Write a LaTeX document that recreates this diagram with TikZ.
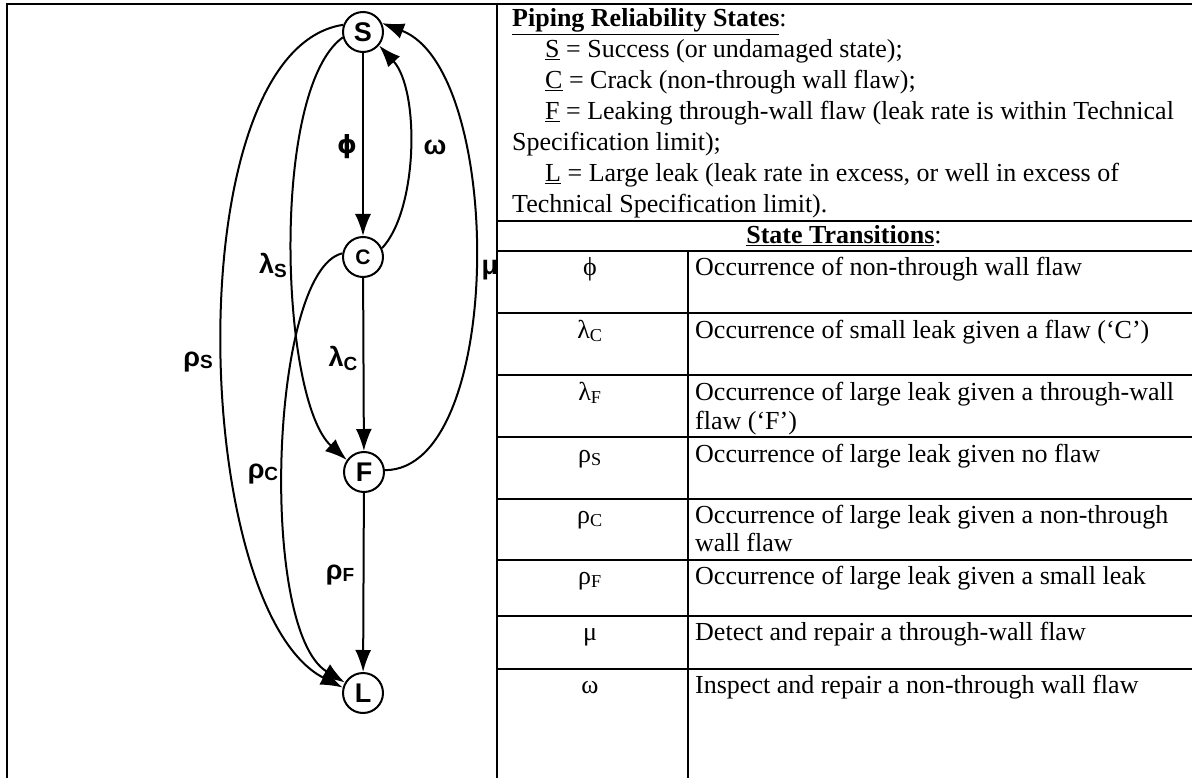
\documentclass[tikz,border=0pt]{standalone}
\usepackage{fontspec}
\setmainfont{Liberation Serif}
\newfontfamily\arialf{Liberation Sans}
\newfontfamily\dvs{DejaVu Sans}
\usetikzlibrary{arrows.meta}
\begin{document}
\begin{tikzpicture}[x=1pt,y=-1pt,
  st/.style={circle,draw,line width=2pt,minimum size=40pt,inner sep=0pt,font=\arialf\bfseries\fontsize{27}{27}\selectfont},
  ed/.style={line width=2pt,-{Latex[length=22pt,width=16pt]}},
  gl/.style={font=\arialf\bfseries\fontsize{27}{27}\selectfont,inner sep=0pt},
  tl/.style={anchor=base west,inner sep=0pt,font=\fontsize{26}{30}\selectfont},
  tc/.style={anchor=base,inner sep=0pt,font=\fontsize{26}{30}\selectfont},
  rule/.style={line width=2pt}]
\useasboundingbox (0,0) rectangle (1192,778);
% frame and table rules
\draw[rule] (6.5,778) -- (6.5,4) -- (1192,4);
\draw[rule] (497,4) -- (497,778);
\draw[rule] (497,221) -- (1192,221);
\draw[rule] (497,251) -- (1192,251);
\foreach \yy in {313,375,437,499,560,616,669} {\draw[rule] (497,\yy) -- (1192,\yy);}
\draw[rule] (688,251) -- (688,778);
% state nodes
\node[st] (S) at (363,32) {S};
\node[st,font=\arialf\bfseries\fontsize{21}{21}\selectfont] (C) at (363,257) {C};
\node[st] (F) at (364,472) {F};
\node[st] (L) at (363,693) {L};
% connectors
\draw[ed] (S) -- (C);
\draw[ed] (C) -- (F);
\draw[ed] (F) -- (L);
\draw[ed] (C.25) .. controls (418,210) and (420,90) .. (S.-40);
\draw[ed] (F.5) .. controls (505,470) and (505,70) .. (S.25);
\draw[ed] (S.195) .. controls (270,90) and (280,400) .. (F.145);
\draw[ed] (S.160) .. controls (175,50) and (190,610) .. (L.165);
\draw[ed] (C.170) .. controls (270,270) and (258,630) .. (L.150);
% diagram labels
\node[gl,font=\dvs\bfseries\fontsize{25}{25}\selectfont] (lphi) at (347,147) {ϕ};
\node[gl] (lomega) at (435,147) {ω};
\node[gl] (lmu) at (490,270) {μ};
\node[gl] (llS) at (273,265) {λ\raisebox{-4pt}{\fontsize{19}{19}\selectfont S}};
\node[gl] (llC) at (343,358) {λ\raisebox{-4pt}{\fontsize{19}{19}\selectfont C}};
\node[gl] (lrS) at (198,362) {ρ\raisebox{-2pt}{\fontsize{19}{19}\selectfont S}};
\node[gl] (lrC) at (263,474) {ρ\raisebox{-2pt}{\fontsize{19}{19}\selectfont C}};
\node[gl] (lrF) at (340,575) {ρ\raisebox{-2pt}{\fontsize{19}{19}\selectfont F}};
% top section text
\node[tl] (h1) at (512,27) {\textbf{\underline{Piping Reliability States}}:};
\node[tl] (s1) at (545,58) {\underline{S} = Success (or undamaged state);};
\node[tl] (s2) at (545,89) {\underline{C} = Crack (non-through wall flaw);};
\node[tl] (s3) at (545,120) {\underline{F} = Leaking through-wall flaw (leak rate is within Technical};
\node[tl] (s4) at (512,151) {Specification limit);};
\node[tl] (s5) at (545,182) {\underline{L} = Large leak (leak rate in excess, or well in excess of};
\node[tl] (s6) at (512,213) {Technical Specification limit).};
\node[tc] (h2) at (844,244) {\textbf{\underline{State Transitions}}:};
% table rows
\node[tc] (r1a) at (590,276) {ϕ};
\node[tl] (r1b) at (695,276) {Occurrence of non-through wall flaw};
\node[tc] (r2a) at (590,338) {λ\textsubscript{C}};
\node[tl] (r2b) at (695,338) {Occurrence of small leak given a flaw (‘C’)};
\node[tc] (r3a) at (590,400) {λ\textsubscript{F}};
\node[tl] (r3b) at (695,400) {Occurrence of large leak given a through-wall};
\node[tl] (r3c) at (695,429) {flaw (‘F’)};
\node[tc] (r4a) at (590,462) {ρ\textsubscript{S}};
\node[tl] (r4b) at (695,462) {Occurrence of large leak given no flaw};
\node[tc] (r5a) at (590,523) {ρ\textsubscript{C}};
\node[tl] (r5b) at (695,523) {Occurrence of large leak given a non-through};
\node[tl] (r5c) at (695,551) {wall flaw};
\node[tc] (r6a) at (590,584) {ρ\textsubscript{F}};
\node[tl] (r6b) at (695,584) {Occurrence of large leak given a small leak};
\node[tc] (r7a) at (590,640) {μ};
\node[tl] (r7b) at (695,640) {Detect and repair a through-wall flaw};
\node[tc] (r8a) at (590,693) {ω};
\node[tl] (r8b) at (695,693) {Inspect and repair a non-through wall flaw};
\end{tikzpicture}
\end{document}
